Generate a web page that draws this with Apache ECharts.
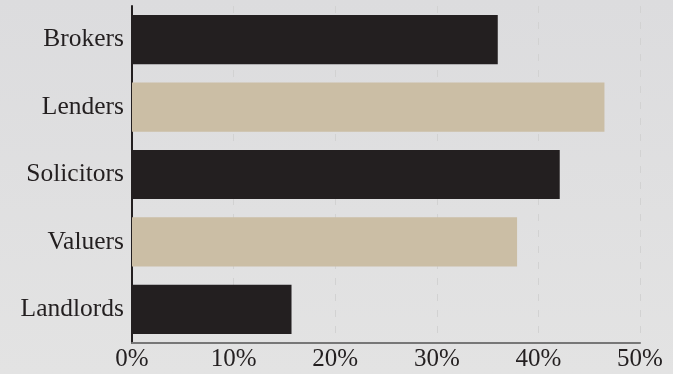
<!DOCTYPE html>
<html><head><meta charset="utf-8">
<script src="https://cdn.jsdelivr.net/npm/echarts@6/dist/echarts.min.js"></script>
<style>html,body{margin:0;padding:0;background:#dfdfe0;}#c{width:673px;height:374px;}</style>
</head><body><div id="c"></div>
<script>
const categories = ["Brokers", "Lenders", "Solicitors", "Valuers", "Landlords"];
const values = [36.0, 46.5, 42.1, 37.9, 15.7];
const barColors = ["#231f20", "#cbbea5", "#231f20", "#cbbea5", "#231f20"];
const tickLabels = ["0%", "10%", "20%", "30%", "40%", "50%"];

const chart = echarts.init(document.getElementById('c'), null, {renderer: 'canvas'});
const font = "'Liberation Serif', serif";
chart.setOption({
  backgroundColor: {type: 'linear', x: 0, y: 0, x2: 0, y2: 1, colorStops: [{offset: 0, color: '#dcdcde'}, {offset: 1, color: '#e3e3e3'}]},
  animation: false,
  grid: {left: 132, right: 33, top: 6, bottom: 31, containLabel: false},
  xAxis: {
    type: 'value', min: 0, max: 50, interval: 10,
    axisLine: {show: true, lineStyle: {color: '#777', width: 2}},
    axisTick: {show: false},
    splitLine: {show: true, lineStyle: {color: '#d2d2d2', type: [7, 9], width: 1}},
    axisLabel: {color: '#231f20', fontFamily: font, fontSize: 25, margin: 4,
      formatter: v => tickLabels[Math.round(v / 10)]}
  },
  yAxis: {
    type: 'category', data: categories, inverse: true,
    axisLine: {show: true, lineStyle: {color: '#231f20', width: 2}},
    axisTick: {show: false},
    axisLabel: {color: '#231f20', fontFamily: font, fontSize: 25.5, margin: 8}
  },
  series: [{
    type: 'bar', barWidth: '73%',
    data: values.map((v, i) => ({value: v, itemStyle: {color: barColors[i]}}))
  }]
});
</script></body></html>
